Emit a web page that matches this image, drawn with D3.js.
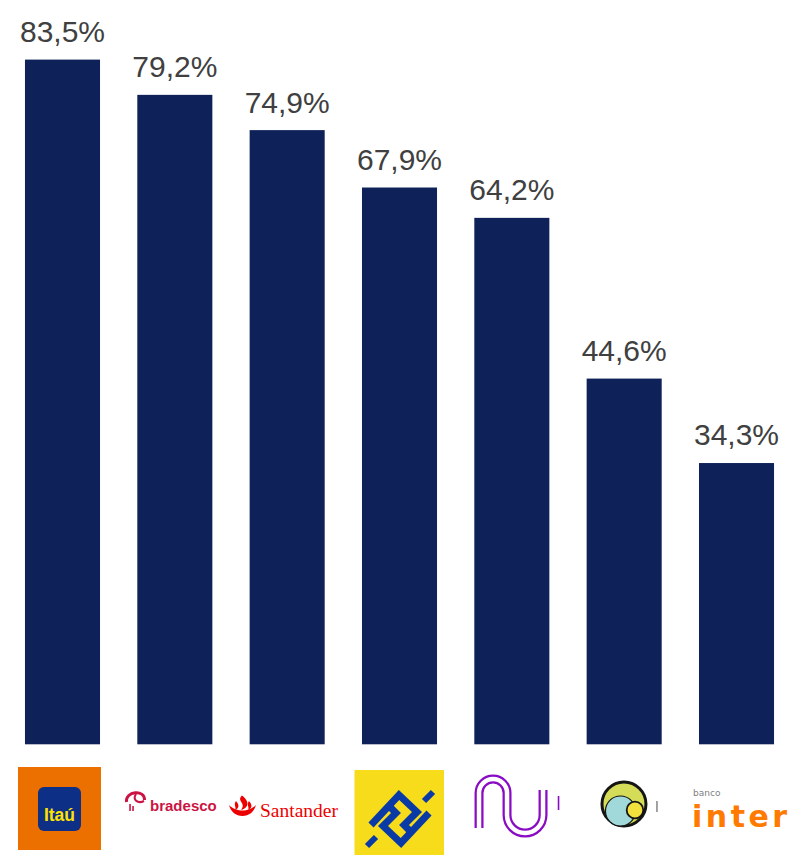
<!DOCTYPE html>
<html><head><meta charset="utf-8">
<script src="https://cdn.jsdelivr.net/npm/d3@7"></script>
<style>html,body{margin:0;padding:0;background:#fff;}svg{display:block;}</style>
</head><body>
<script>
const categories = ["Itaú", "Bradesco", "Santander", "Banco do Brasil", "Nubank", "Banco Pan", "Banco Inter"];
const values = [83.5, 79.2, 74.9, 67.9, 64.2, 44.6, 34.3];
const valueLabels = ["83,5%", "79,2%", "74,9%", "67,9%", "64,2%", "44,6%", "34,3%"];

const W = 791, H = 855;
const svg = d3.select("body").append("svg").attr("width", W).attr("height", H);

const x = d3.scaleBand().domain(categories).range([6.33, 792.67]).paddingInner(0.332).paddingOuter(0.166);
const y = d3.scaleLinear().domain([0, 100]).range([744.3, 744.3 - 820]);

svg.append("g").selectAll("rect").data(values).join("rect")
  .attr("x", (d, i) => x(categories[i]))
  .attr("width", x.bandwidth())
  .attr("y", d => y(d))
  .attr("height", d => y(0) - y(d))
  .attr("fill", "#0E2158");

svg.append("g").selectAll("text").data(values).join("text")
  .attr("x", (d, i) => x(categories[i]) + x.bandwidth() / 2)
  .attr("y", d => y(d) - 17.6)
  .attr("text-anchor", "middle")
  .attr("font-family", "Liberation Sans, Arial, sans-serif")
  .attr("font-size", 30)
  .attr("fill", "#404040")
  .text((d, i) => valueLabels[i]);

// Logos, each centred under its bar
const cx = c => x(c) + x.bandwidth() / 2;
const logo = c => svg.append("g").attr("transform", `translate(${cx(c)},0)`);

// Itaú
{
  const g = logo(categories[0]);
  g.append("rect").attr("x", -44.5).attr("y", 767).attr("width", 83).attr("height", 83).attr("fill", "#EC7000");
  g.append("rect").attr("x", -24.5).attr("y", 787).attr("width", 43).attr("height", 44).attr("rx", 6).attr("fill", "#0D2F86");
  g.append("text").attr("x", -3).attr("y", 820.5).attr("text-anchor", "middle")
    .attr("font-family", "Liberation Sans, Arial, sans-serif").attr("font-weight", "bold")
    .attr("font-size", 17.5).attr("fill", "#FFE200").text("Itaú");
}
// Bradesco
{
  const g = logo(categories[1]).append("g").attr("transform", "translate(-174.8,0)");
  const red = "#CC1444";
  g.append("path").attr("d", "M126.5,802 C125,791 145,789 144.5,800").attr("fill", "none").attr("stroke", red).attr("stroke-width", 3);
  g.append("path").attr("d", "M136,794 C132,800 138,804 144,801").attr("fill", "none").attr("stroke", red).attr("stroke-width", 2);
  g.append("path").attr("d", "M130,804 V811 M133,806 V811").attr("stroke", red).attr("stroke-width", 1.6);
  g.append("text").attr("x", 150).attr("y", 811).attr("font-family", "Liberation Sans, Arial, sans-serif")
    .attr("font-weight", "bold").attr("font-size", 15).attr("fill", red).text("bradesco");
}
// Santander
{
  const g = logo(categories[2]).append("g").attr("transform", "translate(-287.2,0)");
  const red = "#EC0000";
  g.append("path").attr("d", "M229,805 C231,812 236,816 242.5,816 C249,816 254,812 256,805 C252,809 247,810.5 242.5,810.5 C238,810.5 233,809 229,805 Z").attr("fill", red);
  g.append("path").attr("d", "M242,795.5 C236,801 247,803 241,810 C251,807 248,800 242,795.5 Z").attr("fill", red);
  g.append("path").attr("d", "M236,801 C233,805 237,807 235,810 C240,808 239,804 236,801 Z").attr("fill", red);
  g.append("path").attr("d", "M249,801 C246,805 250,807 248,810 C253,808 252,804 249,801 Z").attr("fill", red);
  g.append("text").attr("x", 260).attr("y", 816.5).attr("font-family", "Liberation Serif, Times New Roman, serif")
    .attr("font-size", 19.5).attr("fill", red).text("Santander");
}
// Banco do Brasil
{
  const g = logo(categories[3]).append("g").attr("transform", "translate(-399.5,0)");
  g.append("rect").attr("x", 354.5).attr("y", 770).attr("width", 89.5).attr("height", 85).attr("fill", "#F7DC1B");
  const b = g.append("g").attr("transform", "translate(400,819)");
  const blue = "#0A3AA6";
  const piece = "M-29,6 L-1,-24 L17,-7 L4,6 L11,13";
  b.append("path").attr("d", piece).attr("fill", "none").attr("stroke", blue).attr("stroke-width", 7).attr("stroke-linejoin", "miter");
  b.append("path").attr("d", piece).attr("transform", "rotate(180)").attr("fill", "none").attr("stroke", blue).attr("stroke-width", 7).attr("stroke-linejoin", "miter");
  b.append("path").attr("d", "M24,-18 L33,-27").attr("stroke", blue).attr("stroke-width", 6);
  b.append("path").attr("d", "M-24,18 L-33,27").attr("stroke", blue).attr("stroke-width", 6);
}
// Nubank
{
  const g = logo(categories[4]).append("g").attr("transform", "translate(-511.8,0)");
  const d = "M479,828 V793 A14,14 0 0 1 507,793 V815 A18,18 0 0 0 543,815 V790";
  g.append("path").attr("d", d).attr("fill", "none").attr("stroke", "#8A0BC4").attr("stroke-width", 9).attr("stroke-linecap", "butt");
  g.append("path").attr("d", "M479,829.5 V793 A14,14 0 0 1 507,793 V815 A18,18 0 0 0 543,815 V788.5").attr("fill", "none").attr("stroke", "#fff").attr("stroke-width", 4.5);
  g.append("path").attr("d", "M558.5,796 V810").attr("stroke", "#8A0BC4").attr("stroke-width", 1.6);
}
// Banco Pan-like circle logo
{
  const g = logo(categories[5]).append("g").attr("transform", "translate(-624.2,0)");
  g.append("circle").attr("cx", 624).attr("cy", 804).attr("r", 22).attr("fill", "#D5DC58").attr("stroke", "#151515").attr("stroke-width", 3);
  g.append("circle").attr("cx", 620.5).attr("cy", 811).attr("r", 15).attr("fill", "#A1D9DB").attr("stroke", "#151515").attr("stroke-width", 1.2);
  g.append("circle").attr("cx", 635).attr("cy", 810).attr("r", 8.3).attr("fill", "#F2E03C").attr("stroke", "#151515").attr("stroke-width", 1.8);
  g.append("path").attr("d", "M657,801 V812").attr("stroke", "#666").attr("stroke-width", 1.2);
}
// Inter
{
  const g = logo(categories[6]).append("g").attr("transform", "translate(-736.5,0)");
  g.append("text").attr("x", 693).attr("y", 796).attr("font-family", "DejaVu Sans, sans-serif")
    .attr("font-size", 9).attr("fill", "#7f7f7f").text("banco");
  g.append("text").attr("x", 692).attr("y", 827).attr("font-family", "DejaVu Sans, sans-serif").attr("font-weight", "bold")
    .attr("font-size", 30).attr("letter-spacing", 3.5).attr("fill", "#FF7A00").text("inter");
}
</script>
</body></html>
